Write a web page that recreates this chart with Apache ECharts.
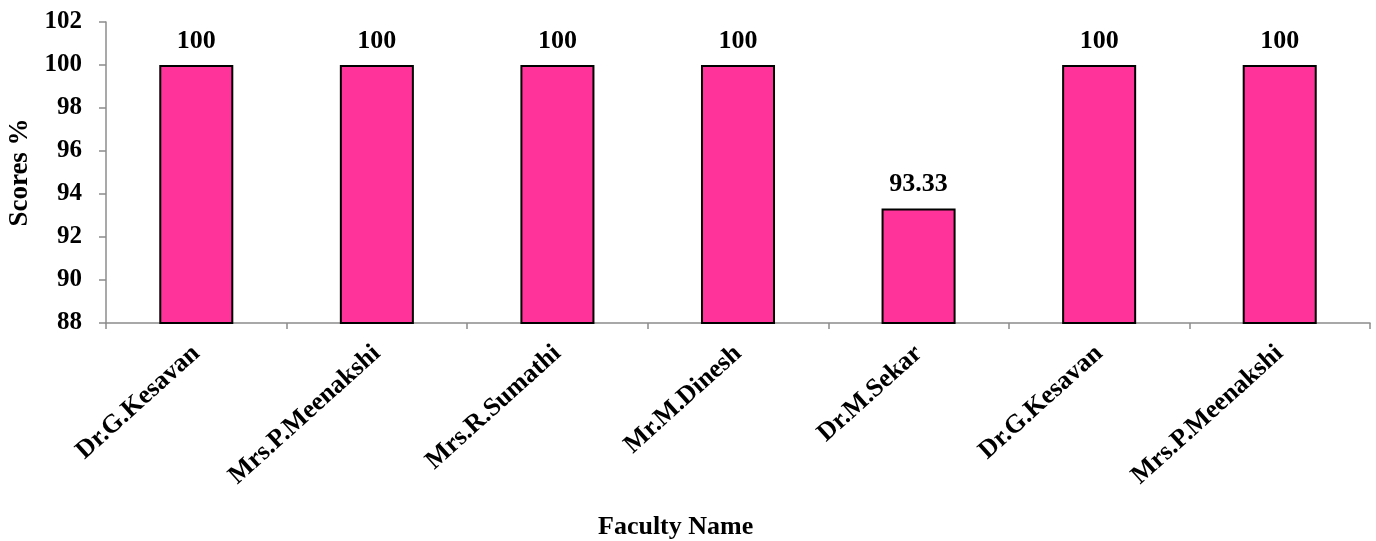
<!DOCTYPE html>
<html>
<head>
<meta charset="utf-8">
<script src="https://cdn.jsdelivr.net/npm/echarts@6/dist/echarts.min.js"></script>
<style>
html,body{margin:0;padding:0;background:#fff;}
#chart{width:1376px;height:541px;}
</style>
</head>
<body>
<div id="chart"></div>
<script>
const categories = ["Dr.G.Kesavan", "Mrs.P.Meenakshi", "Mrs.R.Sumathi", "Mr.M.Dinesh", "Dr.M.Sekar", "Dr.G.Kesavan", "Mrs.P.Meenakshi"];
const scores = [100, 100, 100, 100, 93.33, 100, 100];
const yMin = 88, yMax = 102, yStep = 2;

const font = '"Liberation Serif", "Times New Roman", serif';
const axisGray = '#8c8c8c';

const chart = echarts.init(document.getElementById('chart'));
chart.setOption({
  animation: false,
  backgroundColor: '#ffffff',
  title: {
    text: 'Faculty Name',
    left: 598, top: 514,
    padding: 0,
    textStyle: { fontFamily: font, fontWeight: 'bold', fontSize: 26, color: '#000' }
  },
  grid: { left: 106, right: 6, top: 22, bottom: 218, containLabel: false, outerBoundsMode: 'none' },
  xAxis: {
    type: 'category',
    data: categories.map((c, i) => ({ value: c + '\u200b'.repeat(i) })),
    axisLine: { lineStyle: { color: axisGray, width: 1.5 } },
    axisTick: { show: true, length: 6, alignWithLabel: false, lineStyle: { color: axisGray, width: 1.5 } },
    axisLabel: {
      rotate: 42, interval: 0, margin: 27,
      fontFamily: font, fontWeight: 'bold', fontSize: 26, color: '#000'
    }
  },
  yAxis: {
    type: 'value',
    min: yMin, max: yMax, interval: yStep,
    name: 'Scores %',
    nameLocation: 'middle',
    nameGap: 70,
    nameRotate: 90,
    nameTextStyle: { fontFamily: font, fontWeight: 'bold', fontSize: 27, color: '#000' },
    splitLine: { show: false },
    axisLine: { show: true, lineStyle: { color: axisGray, width: 1.5 } },
    axisTick: { show: true, length: 7, lineStyle: { color: axisGray, width: 1.5 } },
    axisLabel: { margin: 24, fontFamily: font, fontWeight: 'bold', fontSize: 25, color: '#000' }
  },
  series: [{
    type: 'bar',
    data: scores,
    barWidth: '41%',
    itemStyle: { color: '#ff3399', borderColor: '#000', borderWidth: 2 },
    label: {
      show: true, position: 'top', distance: 11,
      fontFamily: font, fontWeight: 'bold', fontSize: 26, color: '#000'
    }
  }]
});
</script>
</body>
</html>
